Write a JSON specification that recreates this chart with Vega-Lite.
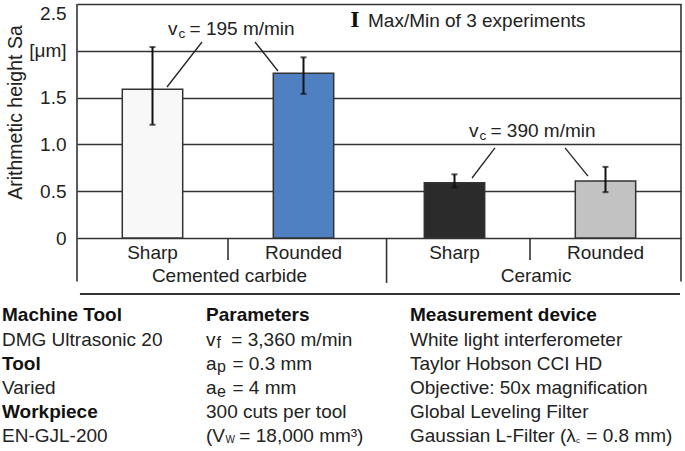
{
  "$schema": "https://vega.github.io/schema/vega-lite/v6.json",
  "padding": {"left": 2, "top": 3, "right": 0, "bottom": 0},
  "config": {
    "font": "Liberation Sans",
    "view": {"stroke": null},
    "text": {"font": "Liberation Sans", "fontSize": 19, "color": "#222"}
  },
  "datasets": {
    "bars": [
      {"cat": "CC Sharp", "edge": "Sharp", "material": "Cemented carbide", "sa": 1.59, "min": 1.21, "max": 2.04},
      {"cat": "CC Rounded", "edge": "Rounded", "material": "Cemented carbide", "sa": 1.76, "min": 1.54, "max": 1.93},
      {"cat": "Cer Sharp", "edge": "Sharp", "material": "Ceramic", "sa": 0.59, "min": 0.54, "max": 0.68},
      {"cat": "Cer Rounded", "edge": "Rounded", "material": "Ceramic", "sa": 0.61, "min": 0.49, "max": 0.76}
    ],
    "table": [
      {"col": 0, "row": 0, "role": "head", "text": "Machine Tool"},
      {"col": 0, "row": 1, "role": "body", "text": "DMG Ultrasonic 20"},
      {"col": 0, "row": 2, "role": "head", "text": "Tool"},
      {"col": 0, "row": 3, "role": "body", "text": "Varied"},
      {"col": 0, "row": 4, "role": "head", "text": "Workpiece"},
      {"col": 0, "row": 5, "role": "body", "text": "EN-GJL-200"},
      {"col": 1, "row": 0, "role": "head", "text": "Parameters"},
      {"col": 1, "row": 1, "role": "body", "text": "v\u00a0\u00a0\u00a0= 3,360 m/min"},
      {"col": 1, "row": 2, "role": "body", "text": "a\u00a0\u00a0\u00a0= 0.3 mm"},
      {"col": 1, "row": 3, "role": "body", "text": "a\u00a0\u00a0\u00a0= 4 mm"},
      {"col": 1, "row": 4, "role": "body", "text": "300 cuts per tool"},
      {"col": 1, "row": 5, "role": "body", "text": "(V\u00a0\u00a0\u2009= 18,000 mm\u00b3)"},
      {"col": 2, "row": 0, "role": "head", "text": "Measurement device"},
      {"col": 2, "row": 1, "role": "body", "text": "White light interferometer"},
      {"col": 2, "row": 2, "role": "body", "text": "Taylor Hobson CCI HD"},
      {"col": 2, "row": 3, "role": "body", "text": "Objective: 50x magnification"},
      {"col": 2, "row": 4, "role": "body", "text": "Global Leveling Filter"},
      {"col": 2, "row": 5, "role": "body", "text": "Gaussian L-Filter (\u03bb\u00a0\u00a0= 0.8 mm)"}
    ],
    "subs": [
      {"col": 1, "row": 1, "sub": "f"},
      {"col": 1, "row": 2, "sub": "p"},
      {"col": 1, "row": 3, "sub": "e"},
      {"col": 1, "row": 5, "sub": "W"},
      {"col": 2, "row": 5, "sub": "c"}
    ]
  },
  "spacing": 0,
  "vconcat": [
    {
      "width": 604,
      "height": 289,
      "resolve": {"scale": {"x": "independent"}},
      "layer": [
        {
          "data": {"name": "bars"},
          "encoding": {
            "x": {"field": "cat", "type": "nominal", "sort": null, "scale": {"paddingInner": 0.6, "paddingOuter": 0.3}, "axis": null}
          },
          "layer": [
            {
              "mark": {"type": "bar", "stroke": "#333", "strokeWidth": 1.5},
              "encoding": {
                "y": {
                  "field": "sa", "type": "quantitative",
                  "scale": {"domain": [-0.5876, 2.5], "nice": false, "zero": false},
                  "axis": {
                    "values": [0, 0.5, 1, 1.5, 2, 2.5],
                    "grid": true, "gridColor": "#333", "gridWidth": 1.6, "gridOpacity": 1,
                    "domain": false, "ticks": false,
                    "labelExpr": "datum.value == 2 ? '[\u03bcm]' : (datum.value == 0 ? '0' : format(datum.value, '.1f'))",
                    "labelFont": "Liberation Sans", "labelFontSize": 19, "labelColor": "#222", "labelPadding": 11,
                    "labelFlush": true, "labelFlushOffset": 0,
                    "title": "Arithmetic height Sa",
                    "titleFont": "Liberation Sans", "titleFontSize": 19.5, "titleFontWeight": "normal", "titleColor": "#222",
                    "titleX": -56, "titleY": 108, "titleAngle": -90, "titleAlign": "center", "titleBaseline": "alphabetic"
                  }
                },
                "color": {
                  "field": "cat", "type": "nominal",
                  "scale": {"domain": ["CC Sharp", "CC Rounded", "Cer Sharp", "Cer Rounded"], "range": ["#f8f8f8", "#4f81c2", "#2b2b2b", "#c2c2c2"]},
                  "legend": null
                }
              }
            },
            {
              "mark": {"type": "rule", "color": "#111", "strokeWidth": 2},
              "encoding": {
                "y": {"field": "min", "type": "quantitative"},
                "y2": {"field": "max"}
              }
            },
            {
              "mark": {"type": "tick", "color": "#111", "thickness": 2, "size": 6},
              "encoding": {"y": {"field": "max", "type": "quantitative"}}
            },
            {
              "mark": {"type": "tick", "color": "#111", "thickness": 2, "size": 6},
              "encoding": {"y": {"field": "min", "type": "quantitative"}}
            },
            {
              "mark": {"type": "text", "baseline": "alphabetic", "align": "center", "fontSize": 19, "color": "#222"},
              "encoding": {
                "y": {"datum": -0.224, "type": "quantitative"},
                "text": {"field": "edge"}
              }
            }
          ]
        },
        {
          "layer": [
            {
              "data": {"values": [{"xi": 0}, {"xi": 4}]},
              "mark": {"type": "rule", "color": "#333", "strokeWidth": 1.6},
              "encoding": {
                "x": {"field": "xi", "type": "quantitative", "scale": {"domain": [0, 4], "nice": false, "zero": false}, "axis": null},
                "y": {"datum": 2.5, "type": "quantitative"},
                "y2": {"datum": -0.465}
              }
            },
            {
              "data": {"values": [{"xi": 2.05}]},
              "mark": {"type": "rule", "color": "#333", "strokeWidth": 1.6},
              "encoding": {
                "x": {"field": "xi", "type": "quantitative", "scale": {"domain": [0, 4], "nice": false, "zero": false}, "axis": null},
                "y": {"datum": 0, "type": "quantitative"},
                "y2": {"datum": -0.48}
              }
            },
            {
              "data": {"values": [{"xi": 1}, {"xi": 3}]},
              "mark": {"type": "rule", "color": "#333", "strokeWidth": 1.6},
              "encoding": {
                "x": {"field": "xi", "type": "quantitative", "scale": {"domain": [0, 4], "nice": false, "zero": false}, "axis": null},
                "y": {"datum": 0, "type": "quantitative"},
                "y2": {"datum": -0.235}
              }
            },
            {
              "data": {"values": [{"material": "Cemented carbide", "xi": 1.01}, {"material": "Ceramic", "xi": 3.04}]},
              "mark": {"type": "text", "baseline": "alphabetic", "align": "center", "fontSize": 19, "color": "#222"},
              "encoding": {
                "x": {"field": "xi", "type": "quantitative", "scale": {"domain": [0, 4], "nice": false, "zero": false}, "axis": null},
                "y": {"datum": -0.47, "type": "quantitative"},
                "text": {"field": "material"}
              }
            },
            {
              "data": {"values": [
                {"fromX": 0.828, "fromY": 2.094, "toX": 0.596, "toY": 1.613},
                {"fromX": 1.179, "fromY": 2.094, "toX": 1.331, "toY": 1.784},
                {"fromX": 2.768, "fromY": 0.962, "toX": 2.616, "toY": 0.641},
                {"fromX": 3.232, "fromY": 0.962, "toX": 3.384, "toY": 0.662}
              ]},
              "mark": {"type": "rule", "color": "#222", "strokeWidth": 1.3},
              "encoding": {
                "x": {"field": "fromX", "type": "quantitative", "scale": {"domain": [0, 4], "nice": false, "zero": false}, "axis": null},
                "x2": {"field": "toX"},
                "y": {"field": "fromY", "type": "quantitative"},
                "y2": {"field": "toY"}
              }
            },
            {
              "data": {"values": [
                {"xi": 0.603, "yb": 2.169, "rest": "\u00a0= 195 m/min"},
                {"xi": 2.596, "yb": 1.079, "rest": "\u00a0= 390 m/min"}
              ]},
              "encoding": {
                "x": {"field": "xi", "type": "quantitative", "scale": {"domain": [0, 4], "nice": false, "zero": false}, "axis": null},
                "y": {"field": "yb", "type": "quantitative"}
              },
              "layer": [
                {"mark": {"type": "text", "align": "left", "baseline": "alphabetic", "fontSize": 19, "color": "#222", "text": "v"}},
                {"mark": {"type": "text", "align": "left", "baseline": "alphabetic", "fontSize": 13.5, "color": "#222", "text": "c", "dx": 10.5, "dy": 3}},
                {"mark": {"type": "text", "align": "left", "baseline": "alphabetic", "fontSize": 19, "color": "#222", "dx": 21.5}, "encoding": {"text": {"field": "rest"}}}
              ]
            },
            {
              "data": {"values": [{"xi": 1.841, "yb": 2.254, "label": "Max/Min of 3 experiments"}]},
              "encoding": {
                "x": {"field": "xi", "type": "quantitative", "scale": {"domain": [0, 4], "nice": false, "zero": false}, "axis": null},
                "y": {"field": "yb", "type": "quantitative"}
              },
              "layer": [
                {"mark": {"type": "text", "align": "center", "baseline": "alphabetic", "font": "Liberation Serif", "fontWeight": "bold", "fontSize": 24, "color": "#111", "text": "I"}},
                {"mark": {"type": "text", "align": "left", "baseline": "alphabetic", "fontSize": 19, "color": "#222", "dx": 13}, "encoding": {"text": {"field": "label"}}}
              ]
            }
          ]
        }
      ]
    },
    {
      "width": 604,
      "height": 158,
      "layer": [
        {
          "data": {"values": [{}]},
          "mark": {"type": "rule", "color": "#333", "strokeWidth": 2},
          "encoding": {
            "x": {"datum": 0.382, "type": "quantitative", "scale": {"domain": [0.3676, 3.3284], "nice": false, "zero": false}, "axis": null},
            "x2": {"datum": 3.3235},
            "y": {"datum": -1.136, "type": "quantitative", "scale": {"domain": [-1.136, 5.393], "nice": false, "zero": false, "reverse": true}, "axis": null}
          }
        },
        {
          "data": {"name": "table"},
          "encoding": {
            "x": {"field": "col", "type": "quantitative", "scale": {"domain": [0.3676, 3.3284], "nice": false, "zero": false}, "axis": null},
            "y": {"field": "row", "type": "quantitative", "scale": {"domain": [-1.136, 5.393], "nice": false, "zero": false, "reverse": true}, "axis": null},
            "text": {"field": "text"}
          },
          "layer": [
            {"transform": [{"filter": "datum.role == 'head'"}], "mark": {"type": "text", "align": "left", "baseline": "alphabetic", "fontSize": 19, "fontWeight": "bold", "color": "#111"}},
            {"transform": [{"filter": "datum.role != 'head'"}], "mark": {"type": "text", "align": "left", "baseline": "alphabetic", "fontSize": 19, "color": "#222"}}
          ]
        },
        {
          "data": {"name": "subs"},
          "encoding": {
            "x": {"field": "col", "type": "quantitative", "scale": {"domain": [0.3676, 3.3284], "nice": false, "zero": false}, "axis": null},
            "y": {"field": "row", "type": "quantitative", "scale": {"domain": [-1.136, 5.393], "nice": false, "zero": false, "reverse": true}, "axis": null},
            "text": {"field": "sub"}
          },
          "layer": [
            {"transform": [{"filter": "datum.sub == 'f'"}], "mark": {"type": "text", "align": "left", "baseline": "alphabetic", "fontSize": 16, "color": "#222", "dx": 10.5, "dy": 2.5}},
            {"transform": [{"filter": "datum.sub == 'p' || datum.sub == 'e'"}], "mark": {"type": "text", "align": "left", "baseline": "alphabetic", "fontSize": 16, "color": "#222", "dx": 11, "dy": 2.5}},
            {"transform": [{"filter": "datum.sub == 'W'"}], "mark": {"type": "text", "align": "left", "baseline": "alphabetic", "fontSize": 10, "color": "#222", "dx": 19.5, "dy": 1}},
            {"transform": [{"filter": "datum.sub == 'c'"}], "mark": {"type": "text", "align": "left", "baseline": "alphabetic", "fontSize": 8, "color": "#222", "dx": 166, "dy": 1}}
          ]
        }
      ]
    }
  ]
}
